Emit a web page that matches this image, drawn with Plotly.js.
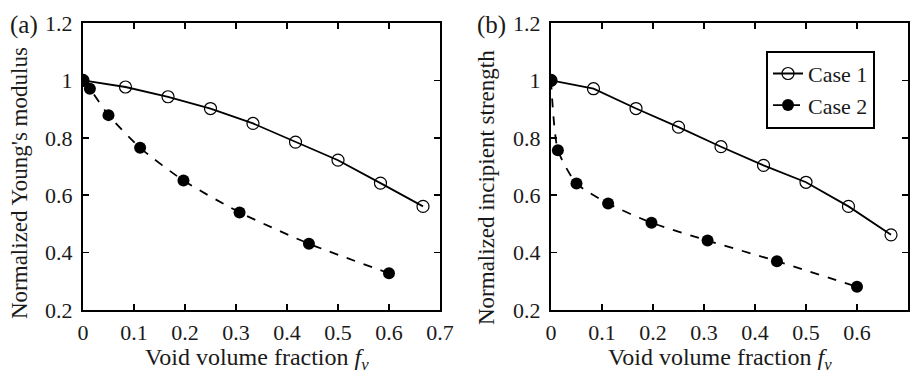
<!DOCTYPE html>
<html>
<head>
<meta charset="utf-8">
<script src="https://cdn.plot.ly/plotly-3.0.1.min.js"></script>
<style>html,body{margin:0;padding:0;background:#fff;}#chart{width:920px;height:376px;}</style>
</head>
<body>
<div id="chart"></div>
<script>
// Panel (a): Normalized Young's modulus
const case1X = [0, 0.0833, 0.1667, 0.25, 0.3333, 0.4167, 0.5, 0.5833, 0.6667];
const case1Young = [1.0, 0.977, 0.943, 0.902, 0.850, 0.785, 0.722, 0.642, 0.561];
const case2X = [0, 0.0135, 0.05, 0.112, 0.197, 0.307, 0.443, 0.600];
const case2Young = [1.0, 0.971, 0.879, 0.765, 0.651, 0.540, 0.431, 0.328];
// Panel (b): Normalized incipient strength
const case1Strength = [1.0, 0.971, 0.902, 0.837, 0.769, 0.704, 0.645, 0.561, 0.462];
const case2Strength = [1.0, 0.757, 0.641, 0.571, 0.504, 0.442, 0.370, 0.281];
const seriesNames = ["Case 1", "Case 2"];
const panelLabels = ["(a)", "(b)"];
const yTitles = ["Normalized Young's modulus", "Normalized incipient strength"];
const xTitle = "Void volume fraction <i>f</i><sub><i>v</i></sub>";

const FONT = "Liberation Serif, Times New Roman, serif";
const TXT = "#1a1a1a";
const c1Style = {mode: "lines+markers", line: {color: "#000", width: 1.8, dash: "solid"},
  marker: {symbol: "circle-open", size: 12, color: "#000", line: {width: 1.2, color: "#000"}}};
const c2Style = {mode: "lines+markers", line: {color: "#000", width: 1.8, dash: "dash", shape: "spline", smoothing: 0.6},
  marker: {symbol: "circle", size: 12, color: "#000"}};

const traces = [
  Object.assign({x: case1X, y: case1Young, name: seriesNames[0], xaxis: "x", yaxis: "y", showlegend: false}, c1Style),
  Object.assign({x: case2X, y: case2Young, name: seriesNames[1], xaxis: "x", yaxis: "y", showlegend: false}, c2Style),
  Object.assign({x: case1X, y: case1Strength, name: seriesNames[0], xaxis: "x2", yaxis: "y2"}, c1Style),
  Object.assign({x: case2X, y: case2Strength, name: seriesNames[1], xaxis: "x2", yaxis: "y2"}, c2Style)
];

function xax(dom, anchor) {
  return {domain: dom, anchor: anchor, range: [0, 0.7], dtick: 0.1, tick0: 0,
    showgrid: false, zeroline: false, showline: true, linecolor: "#000", linewidth: 2, mirror: "ticks",
    ticks: "inside", ticklen: 6, tickwidth: 1.5, tickcolor: "#000", ticklabelstandoff: 2,
    tickfont: {family: FONT, size: 22, color: TXT}};
}
function yax(anchor) {
  return {domain: [0, 1], anchor: anchor, range: [0.2, 1.2], dtick: 0.2, tick0: 0.2,
    showgrid: false, zeroline: false, showline: true, linecolor: "#000", linewidth: 2, mirror: "ticks",
    ticks: "inside", ticklen: 6, tickwidth: 1.5, tickcolor: "#000", ticklabelstandoff: 4,
    tickfont: {family: FONT, size: 22, color: TXT}};
}

const PT = 23, PB = 310, PH = PB - PT;
const py = (p) => (PB - p) / PH;   // pixel row -> paper y
const layout = {
  width: 920, height: 376,
  margin: {l: 0, r: 0, t: PT, b: 376 - PB},
  paper_bgcolor: "#fff", plot_bgcolor: "#fff",
  font: {family: FONT, color: TXT},
  xaxis: xax([83/920, 440/920], "y"),
  yaxis: yax("x"),
  xaxis2: xax([551/920, 908/920], "y2"),
  yaxis2: yax("x2"),
  showlegend: true,
  legend: {x: 766/920, y: py(50.7), xanchor: "left", yanchor: "top",
    bordercolor: "#000", borderwidth: 2, bgcolor: "#fff",
    font: {family: FONT, size: 22, color: TXT}, tracegroupgap: 0, itemwidth: 30},
  annotations: [
    {text: panelLabels[0], xref: "paper", yref: "paper", x: 8/920, y: py(25), xanchor: "left", yanchor: "middle", showarrow: false, font: {family: FONT, size: 25, color: TXT}},
    {text: panelLabels[1], xref: "paper", yref: "paper", x: 475/920, y: py(25), xanchor: "left", yanchor: "middle", showarrow: false, font: {family: FONT, size: 25, color: TXT}},
    {text: yTitles[0], textangle: -90, xref: "paper", yref: "paper", x: 19/920, y: py(183), xanchor: "center", yanchor: "middle", showarrow: false, font: {family: FONT, size: 23, color: TXT}},
    {text: yTitles[1], textangle: -90, xref: "paper", yref: "paper", x: 486/920, y: py(187), xanchor: "center", yanchor: "middle", showarrow: false, font: {family: FONT, size: 23, color: TXT}},
    {text: xTitle, xref: "paper", yref: "paper", x: 257/920, y: py(342), xanchor: "center", yanchor: "top", showarrow: false, font: {family: FONT, size: 24, color: TXT}},
    {text: xTitle, xref: "paper", yref: "paper", x: 720/920, y: py(342), xanchor: "center", yanchor: "top", showarrow: false, font: {family: FONT, size: 24, color: TXT}}
  ]
};

Plotly.newPlot("chart", traces, layout, {staticPlot: true, displayModeBar: false});
</script>
</body>
</html>
